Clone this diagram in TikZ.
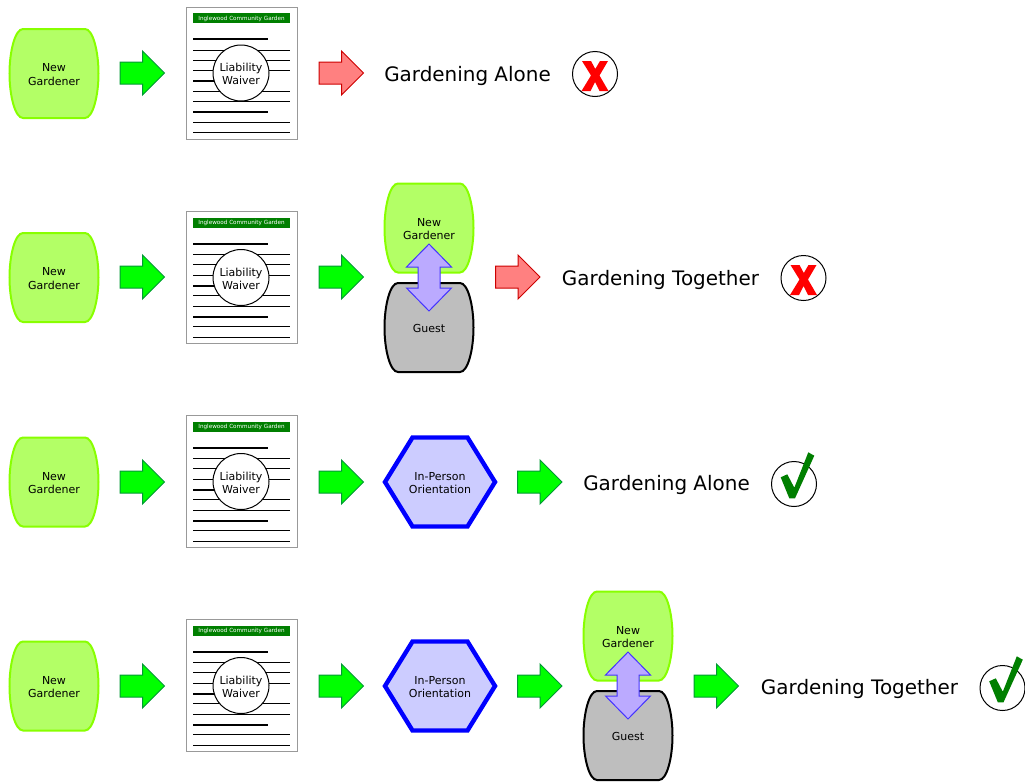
\documentclass[tikz,border=0pt]{standalone}
\usepackage{fontspec}
\setmainfont{DejaVu Sans}
\definecolor{limeline}{HTML}{88FF00}
\definecolor{limefill}{HTML}{B3FF66}
\definecolor{guestfill}{HTML}{BEBEBE}
\definecolor{hexline}{HTML}{0000FF}
\definecolor{hexfill}{HTML}{CCCCFF}
\definecolor{goline}{HTML}{009933}
\definecolor{gofill}{HTML}{00FF00}
\definecolor{stopline}{HTML}{CC0000}
\definecolor{stopfill}{HTML}{FF8080}
\definecolor{dblline}{HTML}{4433FF}
\definecolor{dblfill}{HTML}{BBAAFF}
\definecolor{docgreen}{HTML}{007F00}
\definecolor{docline}{HTML}{999999}
\tikzset{
  every node/.style={inner sep=0pt,outer sep=0pt},
  small/.style={font=\fontsize{8.25}{9.9}\selectfont,align=center},
  result/.style={font=\fontsize{14.95}{18}\selectfont},
  blobshape/.pic={\path[pic actions] (-31,-44.5) -- (31,-44.5) .. controls (39,-44.5) and (44.5,-22) .. (44.5,0) .. controls (44.5,22) and (39,44.5) .. (31,44.5) -- (-31,44.5) .. controls (-39,44.5) and (-44.5,22) .. (-44.5,0) .. controls (-44.5,-22) and (-39,-44.5) .. (-31,-44.5) -- cycle;},
  blockshape/.pic={\path[pic actions] (0,-11) -- (22.5,-11) -- (22.5,-22) -- (44.5,0) -- (22.5,22) -- (22.5,11) -- (0,11) -- cycle;},
  gardener/.style={draw=limeline,fill=limefill,line width=1.5pt},
  guest/.style={draw=black,fill=guestfill,line width=1.5pt},
  goarrow/.style={draw=goline,fill=gofill,line width=.75pt},
  stoparrow/.style={draw=stopline,fill=stopfill,line width=.75pt},
  dblarrow/.style={draw=dblline,fill=dblfill,line width=.75pt},
  hexagonstyle/.style={draw=hexline,fill=hexfill,line width=3.3pt,line join=miter},
  verdict/.style={draw=black,fill=white,line width=.75pt},
}
\newcommand{\blobnode}[5]{% name, x, y, style, text
  \pic[#4] at (#2,#3) {blobshape};
  \node[small] (#1) at (#2,#3+1) {#5};}
\newcommand{\gardenernode}[3]{\blobnode{#1}{#2}{#3}{gardener}{New\\Gardener}}
\newcommand{\docnode}[3]{% name, x, y (centre of circle)
  \begin{scope}[shift={(#2,#3)}]
    \draw[docline,fill=white,line width=.75pt] (-55,-66) rectangle (56,66);
    \fill[docgreen] (-48,-60) rectangle (49,-50);
    \node[font=\fontsize{4.25}{5}\selectfont,text=white] (#1h) at (0.5,-54.5) {Inglewood Community Garden};
    \foreach \yy in {-23,-12.7,-2.3,18,28.7,49,59.7}{\draw[black,line width=.75pt] (-48,\yy) -- (49,\yy);}
    \foreach \yy in {-33.7,8,39}{\draw[black,line width=1.5pt] (-48,\yy) -- (27,\yy);}
    \node[draw=black,fill=white,line width=.75pt,circle,minimum size=56*.75pt] (#1c) at (0,0) {};
    \node[small] (#1) at (0,1) {Liability\\Waiver};
  \end{scope}}
\newcommand{\hexnode}[3]{% name, x, y
  \draw[hexagonstyle] (#2-55,#3) -- (#2-27.5,#3-44.5) -- (#2+27.5,#3-44.5) -- (#2+55,#3) -- (#2+27.5,#3+44.5) -- (#2-27.5,#3+44.5) -- cycle;
  \node[small] (#1) at (#2,#3+1) {In-Person\\Orientation};}
\newcommand{\pairnode}[3]{% name, x, top-blob centre y
  \blobnode{#1a}{#2}{#3}{gardener}{New\\Gardener}
  \blobnode{#1b}{#2}{#3+99.5}{guest}{Guest}
  \draw[dblarrow] (#2,#3+16) -- (#2+22.5,#3+39) -- (#2+11,#3+39) -- (#2+11,#3+60) -- (#2+22.5,#3+60) -- (#2,#3+83) -- (#2-22.5,#3+60) -- (#2-11,#3+60) -- (#2-11,#3+39) -- (#2-22.5,#3+39) -- cycle;}
\newcommand{\crossnode}[3]{% name, x, y
  \node[verdict,circle,minimum size=45*.75pt] (#1) at (#2,#3) {};
  \fill[red] (#2-13,#3-13) -- (#2-4,#3-13) -- (#2+.3,#3-5) -- (#2+5,#3-13) -- (#2+13,#3-13) -- (#2+4.5,#3+1.5) -- (#2+13.5,#3+17) -- (#2+4.5,#3+17) -- (#2,#3+8) -- (#2-4.5,#3+17) -- (#2-13.5,#3+17) -- (#2-4,#3+1.5) -- cycle;}
\newcommand{\checknode}[3]{% name, x, y
  \node[verdict,circle,minimum size=45*.75pt] (#1) at (#2,#3) {};
  \fill[docgreen] (#2-13.3,#3-6.7) -- (#2-6.7,#3-9.7) -- (#2+.3,#3+3.7) -- (#2+14.3,#3-31.7) -- (#2+20.3,#3-28.3) -- (#2+1,#3+14.3) -- (#2-4.7,#3+14.3) -- cycle;}
\begin{document}
\begin{tikzpicture}[x=.75pt,y=-.75pt]
\useasboundingbox (0,0) rectangle (1025,782);
% Row 1
\gardenernode{a1}{54}{73.5}
\pic[goarrow] at (120,73) {blockshape};
\docnode{b1}{241}{73}
\pic[stoparrow] at (319,73) {blockshape};
\node[result] (c1) at (467.5,75.5) {Gardening Alone};
\crossnode{d1}{595}{74}
% Row 2
\gardenernode{a2}{54}{277.5}
\pic[goarrow] at (120,277) {blockshape};
\docnode{b2}{241}{277.5}
\pic[goarrow] at (319,277) {blockshape};
\pairnode{p2}{429}{228}
\pic[stoparrow] at (495.5,277) {blockshape};
\node[result] (c2) at (660.5,279.5) {Gardening Together};
\crossnode{d2}{803.5}{278}
% Row 3
\gardenernode{a3}{54}{482}
\pic[goarrow] at (120,482) {blockshape};
\docnode{b3}{241}{481.5}
\pic[goarrow] at (319,482) {blockshape};
\hexnode{h3}{440}{482}
\pic[goarrow] at (517.5,482) {blockshape};
\node[result] (c3) at (666.5,484.5) {Gardening Alone};
\checknode{d3}{794}{484}
% Row 4
\gardenernode{a4}{54}{686}
\pic[goarrow] at (120,686) {blockshape};
\docnode{b4}{241}{685.5}
\pic[goarrow] at (319,686) {blockshape};
\hexnode{h4}{440}{686}
\pic[goarrow] at (517.5,686) {blockshape};
\pairnode{p4}{628}{636}
\pic[goarrow] at (694,686) {blockshape};
\node[result] (c4) at (859.5,688.5) {Gardening Together};
\checknode{d4}{1002.5}{688}
\end{tikzpicture}
\end{document}
